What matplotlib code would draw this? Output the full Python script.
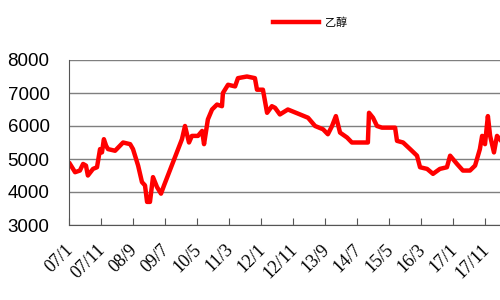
import matplotlib
matplotlib.use('Agg')
from matplotlib import pyplot as plt
from matplotlib import transforms

# months counted from 2007/1
months = [0.3, 1.9, 3.4, 4.4, 5.3, 5.9, 7.5, 8.75, 9.7, 10.3, 10.9, 11.6, 12.2,
          14.4, 16.9, 19.1, 20, 21.6, 22.8, 23.75, 24.4, 25.3, 26.25, 27.5,
          28.75, 29.7, 30.9, 32.5, 34.1, 35.3, 36.25, 37.5, 38.4, 40.3, 41.6,
          42.2, 43.4, 44.7, 46.25, 47.8, 48.1, 49.7, 51.9, 52.8, 55.6, 58.1,
          58.75, 60.6, 61.9, 63.4, 64.4, 65.9, 68.4, 72.2, 74.7, 76.9, 79.4,
          80.9, 82.2, 83.4, 84.7, 86.9, 88.4, 93.4, 93.75, 95, 96.25, 97.8,
          101.9, 102.5, 104.4, 106.6, 108.75, 109.7, 111.9, 113.75, 115.9,
          118.1, 119.1, 121.25, 123.1, 125.3, 126.9, 128.4, 129.1, 130, 130.9,
          131.6, 132.8, 133.75, 135.5]
ethanol = [4850, 4600, 4650, 4850, 4800, 4500, 4700, 4750, 5300, 5200, 5600,
           5400, 5300, 5250, 5500, 5450, 5300, 4800, 4300, 4200, 3700, 3700,
           4450, 4150, 3950, 4200, 4500, 4900, 5300, 5600, 6000, 5500, 5700,
           5700, 5850, 5450, 6200, 6500, 6650, 6600, 7000, 7250, 7200, 7450,
           7500, 7450, 7100, 7100, 6400, 6600, 6550, 6350, 6500, 6350, 6250,
           6000, 5900, 5750, 6000, 6300, 5800, 5650, 5500, 5500, 6400, 6250,
           6000, 5950, 5950, 5550, 5500, 5300, 5100, 4750, 4700, 4550, 4700,
           4750, 5100, 4850, 4650, 4650, 4800, 5300, 5700, 5450, 6300, 5700,
           5200, 5700, 5500]

tick_pos = list(range(0, 140, 10))
tick_labels = ['07/1', '07/11', '08/9', '09/7', '10/5', '11/3', '12/1',
               '12/11', '13/9', '14/7', '15/5', '16/3', '17/1', '17/11']

fig = plt.figure(figsize=(5, 3), dpi=100)
ax = fig.add_axes([0.138, 0.25, 0.896, 0.55])

ax.plot(months, ethanol, color='#ff0000', lw=3.2, label='乙醇',
        solid_joinstyle='round')

ax.set_xlim(0, 140)
ax.set_ylim(3000, 8000)
ax.set_yticks([3000, 4000, 5000, 6000, 7000, 8000])
ax.yaxis.grid(True, color='#7f7f7f', lw=1)
ax.set_axisbelow(True)
ax.tick_params(axis='y', length=0, pad=14, labelsize=13.5)
for t in ax.get_yticklabels():
    t.set_fontfamily('Liberation Sans')

ax.set_xticks(tick_pos)
ax.set_xticklabels(tick_labels, rotation=45, ha='right', rotation_mode='anchor',
                   fontsize=13, family='Liberation Serif')
ax.tick_params(axis='x', direction='in', length=5, color='#555555', pad=10)
shift = transforms.ScaledTranslation(-4 / 100, -2 / 100, fig.dpi_scale_trans)
for t in ax.get_xticklabels():
    t.set_transform(t.get_transform() + shift)

for s in ['top', 'right']:
    ax.spines[s].set_visible(False)
ax.spines['left'].set_color('#555555')
ax.spines['bottom'].set_color('#555555')

leg = fig.legend(loc='center', bbox_to_anchor=(0.62, 0.925), frameon=False,
                 prop={'family': ['Noto Sans CJK SC', 'DejaVu Sans'], 'size': 8},
                 handlelength=4.2, handletextpad=0.5)

fig.savefig('out.png', dpi=100)
